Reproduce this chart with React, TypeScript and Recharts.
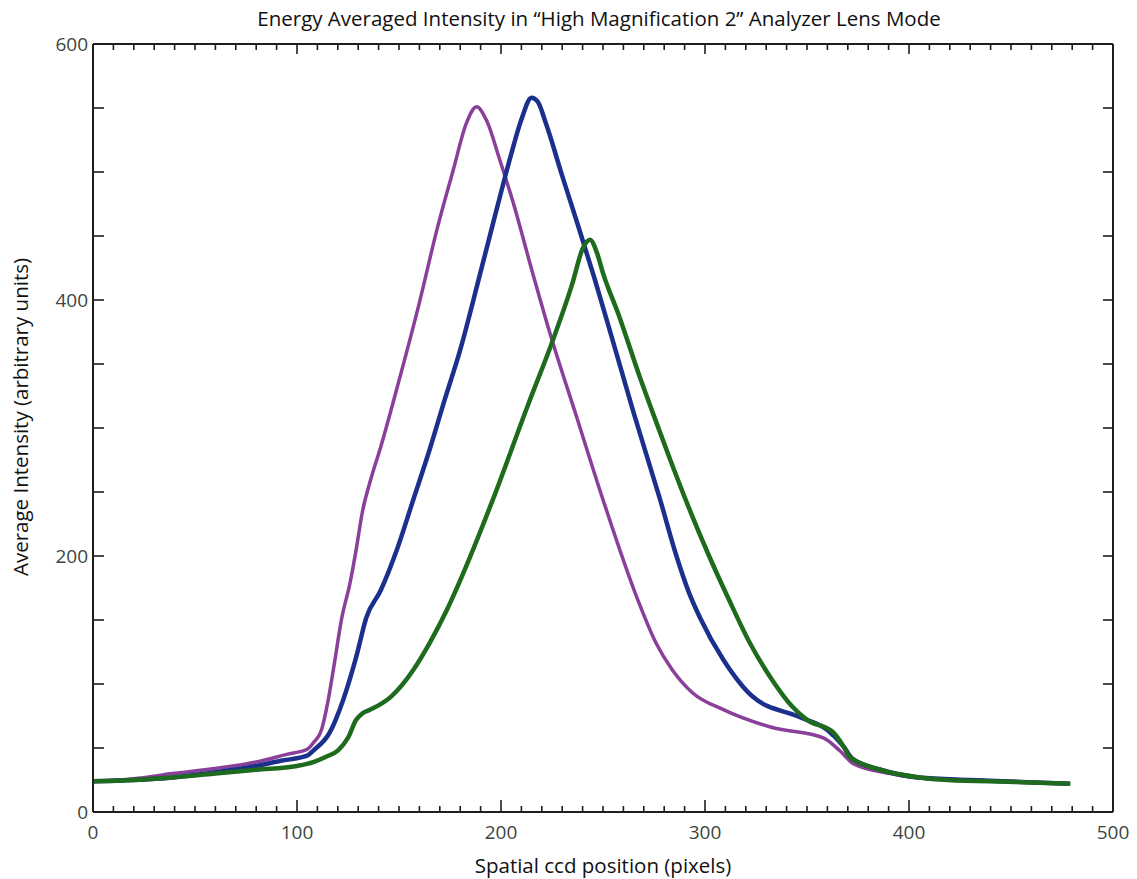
import React from "react";
import { LineChart, Line, XAxis, YAxis } from "recharts";

const titleText = "Energy Averaged Intensity in \u201cHigh Magnification 2\u201d Analyzer Lens Mode";
const xAxisTitle = "Spatial ccd position (pixels)";
const yAxisTitle = "Average Intensity (arbitrary units)";

const xTicks = [0,10,20,30,40,50,60,70,80,90,100,110,120,130,140,150,160,170,180,190,200,210,220,230,240,250,260,270,280,290,300,310,320,330,340,350,360,370,380,390,400,410,420,430,440,450,460,470,480,490,500];
const yTicks = [0,50,100,150,200,250,300,350,400,450,500,550,600];

const purpleX = [0,20,39,60,80,95,105,108,112,115,118,122,126,129,132,136,141,150,160,168.6,176.5,183,188,193,199.5,206,215,224,237,250,267,276,284,294,309,333,358,366,372.5,391,405,430,455,479];
const purpleY = [24,26,30,34,39,45,49,54,64,85,113,152,179,205,234,259,285,337,398,455,501,538,551,540,509,476,424,374,309,244,166,132,111,93,80,66,58,48,38,30,26.5,25,23.5,22];

const blueX = [0,20,39,60,80,92,105,108,116,122.5,129,134,141,149,157,165,172,180,190,195,200,205,210,215,218,222,230,238,246,253,265,278,286,292,297.5,309,323.5,346.6,360,368,372,386,405,430,455,479];
const blueY = [24,25,27,31,36,40,44,48,62,87,121,152,173,205,244,283,320,361,422,453,484,514,541,558,555,538,497,457,416,378,312,244,200,172,152,119,90,74,64,51,42,33,27,25,23.5,22];

const greenX = [0,20,39,60,80,100,108,114,120,125,129,132,136,146,157,165,173.5,180,196,213,225.5,235,240,243.6,247,250,258,268,276,283,292,302,312,322,333,343,350,363,368,371,386,405,419,451,479];
const greenY = [24,25,27,30,33,36,39,43,48,58,72,77,80,90,111,132,158,181,244,317,369,413,440,447,437,421,387,340,305,275,238,200,165,132,103,82,72,62,51,43,33,27,25,23.5,22];

const toPts = (xs: number[], ys: number[]) => xs.map((x, i) => ({ x, y: ys[i] }));
const purple = toPts(purpleX, purpleY);
const blue = toPts(blueX, blueY);
const green = toPts(greenX, greenY);

const FONT = "'Open Sans', 'DejaVu Sans', sans-serif";
const AXIS_COLOR = "#1e1e1e";
const LABEL_COLOR = "#3b4640";

const BottomTick = (props: any) => {
  const { x, y, payload } = props;
  const v = payload.value;
  const major = v % 100 === 0;
  return (
    <g>
      <line x1={x} y1={y} x2={x} y2={y - (major ? 12 : 6)} stroke={AXIS_COLOR} strokeWidth={1.6} />
      {major && (
        <text x={x} y={y + 20} textAnchor="middle" dominantBaseline="central" fontSize={19} fontFamily={FONT} fill={LABEL_COLOR}>
          {v}
        </text>
      )}
    </g>
  );
};

const TopTick = (props: any) => {
  const { x, y, payload } = props;
  const major = payload.value % 100 === 0;
  return <line x1={x} y1={y} x2={x} y2={y + (major ? 10 : 6)} stroke={AXIS_COLOR} strokeWidth={1.6} />;
};

const LeftTick = (props: any) => {
  const { x, y, payload } = props;
  const v = payload.value;
  const major = v % 200 === 0;
  return (
    <g>
      <line x1={x} y1={y} x2={x + 11} y2={y} stroke={AXIS_COLOR} strokeWidth={1.6} />
      {major && (
        <text x={x - 5} y={y} textAnchor="end" dominantBaseline="central" fontSize={19} fontFamily={FONT} fill={LABEL_COLOR}>
          {v}
        </text>
      )}
    </g>
  );
};

const RightTick = (props: any) => {
  const { x, y } = props;
  return <line x1={x} y1={y} x2={x - 10} y2={y} stroke={AXIS_COLOR} strokeWidth={1.6} />;
};

const TitleLabel = (props: any) => {
  const vb = props.viewBox;
  return (
    <text x={599} y={vb.y + 18} textAnchor="middle" dominantBaseline="central" fontSize={20.5} fontFamily={FONT} fill="#111111">
      {titleText}
    </text>
  );
};

const XTitle = (props: any) => {
  const vb = props.viewBox;
  return (
    <text x={vb.x + vb.width / 2} y={vb.y + 53} textAnchor="middle" dominantBaseline="central" fontSize={20.5} fontFamily={FONT} fill="#111111">
      {xAxisTitle}
    </text>
  );
};

const YTitle = (props: any) => {
  const vb = props.viewBox;
  const cx = vb.x + 20;
  const cy = vb.y + vb.height / 2 - 11;
  return (
    <text x={cx} y={cy} transform={`rotate(-90, ${cx}, ${cy})`} textAnchor="middle" dominantBaseline="central" fontSize={20.5} fontFamily={FONT} fill="#111111">
      {yAxisTitle}
    </text>
  );
};

export default function App() {
  return (
    <div style={{ position: "absolute", left: 0, top: 0, width: 1137, height: 879, background: "#ffffff" }}>
      <LineChart width={1137} height={879} margin={{ top: 0, right: 0, bottom: 0, left: 0 }}>
        <XAxis
          xAxisId="bottom"
          type="number"
          dataKey="x"
          domain={[0, 500]}
          allowDataOverflow
          ticks={xTicks}
          interval={0}
          height={67}
          tickSize={0}
          tickMargin={0}
          tickLine={false}
          axisLine={{ stroke: AXIS_COLOR, strokeWidth: 2 }}
          tick={<BottomTick />}
          label={<XTitle />}
        />
        <XAxis
          xAxisId="top"
          orientation="top"
          type="number"
          dataKey="x"
          domain={[0, 500]}
          allowDataOverflow
          ticks={xTicks}
          interval={0}
          height={44}
          tickSize={0}
          tickMargin={0}
          tickLine={false}
          axisLine={{ stroke: AXIS_COLOR, strokeWidth: 2 }}
          tick={<TopTick />}
          label={<TitleLabel />}
        />
        <YAxis
          yAxisId="left"
          type="number"
          domain={[0, 600]}
          allowDataOverflow
          ticks={yTicks}
          interval={0}
          width={93}
          tickSize={0}
          tickMargin={0}
          tickLine={false}
          axisLine={{ stroke: AXIS_COLOR, strokeWidth: 2 }}
          tick={<LeftTick />}
          label={<YTitle />}
        />
        <YAxis
          yAxisId="right"
          orientation="right"
          type="number"
          domain={[0, 600]}
          allowDataOverflow
          ticks={yTicks}
          interval={0}
          width={24}
          tickSize={0}
          tickMargin={0}
          tickLine={false}
          axisLine={{ stroke: AXIS_COLOR, strokeWidth: 2 }}
          tick={<RightTick />}
        />
        <Line xAxisId="bottom" yAxisId="left" data={purple} dataKey="y" type="monotone" stroke="#8a3f9a" strokeWidth={3.5} dot={false} isAnimationActive={false} />
        <Line xAxisId="bottom" yAxisId="left" data={blue} dataKey="y" type="monotone" stroke="#1b2f8c" strokeWidth={4.5} dot={false} isAnimationActive={false} />
        <Line xAxisId="bottom" yAxisId="left" data={green} dataKey="y" type="monotone" stroke="#1e6b1e" strokeWidth={4.5} dot={false} isAnimationActive={false} />
      </LineChart>
    </div>
  );
}
